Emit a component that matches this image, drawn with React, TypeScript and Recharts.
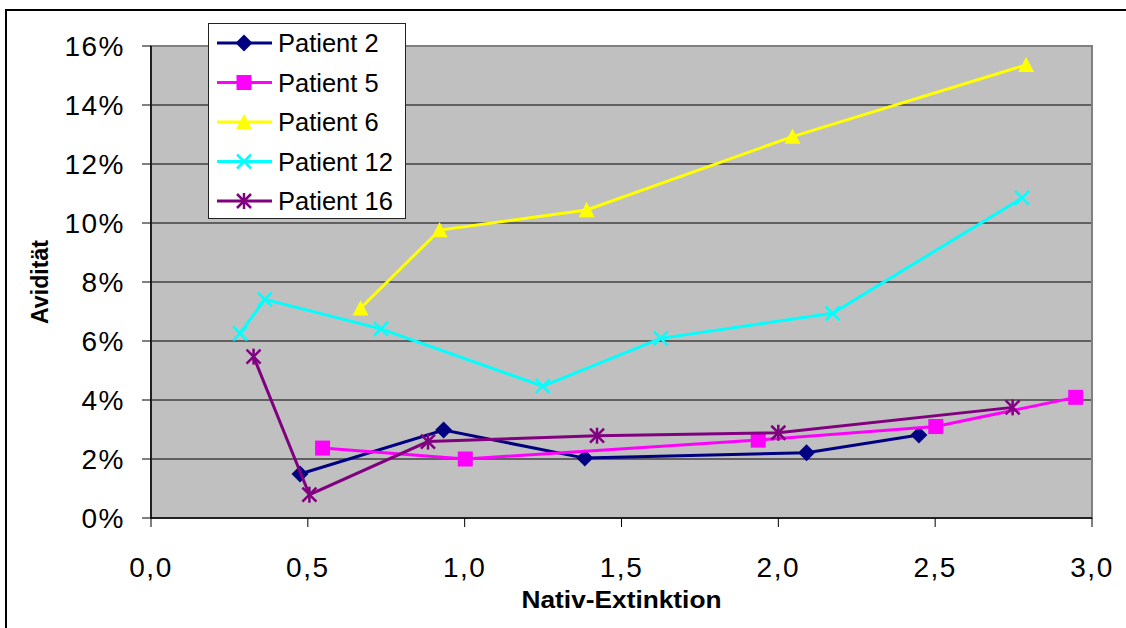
import React from 'react';
import {
  ScatterChart,
  Scatter,
  XAxis,
  YAxis,
  CartesianGrid,
  ReferenceArea,
  Legend,
} from 'recharts';

// Nativ-Extinktion (x) and Avidität (y, as fraction) per patient
const patient2: [number, number][] = [
  [0.475, 0.0149],
  [0.933, 0.0298],
  [1.383, 0.0203],
  [2.09, 0.0221],
  [2.448, 0.0281],
];
const patient5: [number, number][] = [
  [0.547, 0.0237],
  [1.002, 0.02],
  [1.936, 0.0264],
  [2.502, 0.031],
  [2.948, 0.0409],
];
const patient6: [number, number][] = [
  [0.668, 0.0711],
  [0.92, 0.0976],
  [1.389, 0.1044],
  [2.045, 0.1293],
  [2.79, 0.1536],
];
const patient12: [number, number][] = [
  [0.284, 0.0626],
  [0.363, 0.0741],
  [0.733, 0.0641],
  [1.249, 0.0447],
  [1.625, 0.0609],
  [2.173, 0.0694],
  [2.777, 0.1085],
];
const patient16: [number, number][] = [
  [0.327, 0.0547],
  [0.505, 0.0079],
  [0.883, 0.0259],
  [1.422, 0.0279],
  [2.0, 0.0289],
  [2.747, 0.0375],
];

const xTicks = [0, 0.5, 1, 1.5, 2, 2.5, 3];
const yTicks = [0, 0.02, 0.04, 0.06, 0.08, 0.1, 0.12, 0.14, 0.16];

type MarkerKind = 'diamond' | 'square' | 'triangle' | 'cross' | 'star';

const series: { name: string; color: string; marker: MarkerKind; points: [number, number][] }[] = [
  { name: 'Patient 2', color: '#000080', marker: 'diamond', points: patient2 },
  { name: 'Patient 5', color: '#FF00FF', marker: 'square', points: patient5 },
  { name: 'Patient 6', color: '#FFFF00', marker: 'triangle', points: patient6 },
  { name: 'Patient 12', color: '#00FFFF', marker: 'cross', points: patient12 },
  { name: 'Patient 16', color: '#800080', marker: 'star', points: patient16 },
];

const FONT = '"Liberation Sans", Arial, sans-serif';

function Marker({ kind, cx, cy, color }: { kind: MarkerKind; cx: number; cy: number; color: string }) {
  switch (kind) {
    case 'diamond': {
      const r = 8.5;
      return <polygon points={`${cx},${cy - r} ${cx + r},${cy} ${cx},${cy + r} ${cx - r},${cy}`} fill={color} />;
    }
    case 'square': {
      const r = 7.5;
      return <rect x={cx - r} y={cy - r} width={r * 2} height={r * 2} fill={color} />;
    }
    case 'triangle': {
      const r = 8;
      return <polygon points={`${cx},${cy - r} ${cx + r},${cy + r * 0.9} ${cx - r},${cy + r * 0.9}`} fill={color} />;
    }
    case 'cross': {
      const r = 7;
      return (
        <g stroke={color} strokeWidth={2.5}>
          <line x1={cx - r} y1={cy - r} x2={cx + r} y2={cy + r} />
          <line x1={cx - r} y1={cy + r} x2={cx + r} y2={cy - r} />
        </g>
      );
    }
    case 'star': {
      const r = 7;
      return (
        <g stroke={color} strokeWidth={2.5}>
          <line x1={cx - r} y1={cy - r} x2={cx + r} y2={cy + r} />
          <line x1={cx - r} y1={cy + r} x2={cx + r} y2={cy - r} />
          <line x1={cx} y1={cy - r - 1} x2={cx} y2={cy + r + 1} />
        </g>
      );
    }
  }
  return null;
}

function LegendBox() {
  const rowH = 39.5;
  return (
    <svg width={198} height={196} style={{ display: 'block' }}>
      <rect x={0.5} y={0.5} width={197} height={195} fill="#FFFFFF" stroke="#222" strokeWidth={1} />
      {series.map((s, i) => {
        const cy = 20 + i * rowH;
        return (
          <g key={s.name}>
            <line x1={9} y1={cy} x2={64} y2={cy} stroke={s.color} strokeWidth={3} />
            <Marker kind={s.marker} cx={36} cy={cy} color={s.color} />
            <text x={70} y={cy + 9} fontFamily={FONT} fontSize={25.5} fill="#000">
              {s.name}
            </text>
          </g>
        );
      })}
    </svg>
  );
}

const fmtX = (v: number) => v.toFixed(1).replace('.', ',');
const fmtY = (v: number) => `${Math.round(v * 100)}%`;

export default function App() {
  return (
    <div
      style={{
        position: 'absolute',
        left: 0,
        top: 0,
        width: 1126,
        height: 628,
        background: '#FFFFFF',
        overflow: 'hidden',
      }}
    >
      <div
        style={{
          position: 'absolute',
          left: 5,
          top: 9,
          width: 1140,
          height: 640,
          border: '2px solid #000',
          boxSizing: 'border-box',
        }}
      />
      <div style={{ position: 'absolute', left: 0, top: 0 }}>
        <ScatterChart width={1126} height={628} margin={{ top: 46, right: 34, bottom: 0, left: 0 }}>
          <CartesianGrid vertical={false} stroke="#000" strokeWidth={1} fill="#C0C0C0" fillOpacity={1} />
          <ReferenceArea
            x1={0}
            x2={3}
            y1={0}
            y2={0.16}
            fill="none"
            fillOpacity={0}
            stroke="#808080"
            strokeWidth={2}
          />
          <XAxis
            type="number"
            dataKey="x"
            domain={[0, 3]}
            ticks={xTicks}
            tickFormatter={fmtX}
            height={110}
            axisLine={{ stroke: '#000', strokeWidth: 1.5 }}
            tickLine={{ stroke: '#000', strokeWidth: 1 }}
            tickSize={9}
            tickMargin={30}
            tick={{ fill: '#000', fontSize: 28, fontFamily: FONT, letterSpacing: 1.5 }}
            interval={0}
            label={(props: any) => {
              const vb = props.viewBox || {};
              return (
                <text
                  x={vb.x + vb.width / 2}
                  y={vb.y + 90}
                  textAnchor="middle"
                  fontFamily={FONT}
                  fontWeight="bold"
                  fontSize={23}
                  textLength={200}
                  lengthAdjust="spacingAndGlyphs"
                  fill="#000"
                >
                  Nativ-Extinktion
                </text>
              );
            }}
          />
          <YAxis
            type="number"
            dataKey="y"
            domain={[0, 0.16]}
            ticks={yTicks}
            tickFormatter={fmtY}
            width={151}
            axisLine={{ stroke: '#000', strokeWidth: 1.5 }}
            tickLine={{ stroke: '#000', strokeWidth: 1 }}
            tickSize={9}
            tickMargin={17}
            tick={{ fill: '#000', fontSize: 28, fontFamily: FONT, letterSpacing: 1.5 }}
            interval={0}
            label={(props: any) => {
              const vb = props.viewBox || {};
              const cx = 40;
              const cy = vb.y + vb.height / 2;
              return (
                <text
                  x={cx}
                  y={cy}
                  transform={`rotate(-90 ${cx} ${cy})`}
                  textAnchor="middle"
                  dominantBaseline="central"
                  fontFamily={FONT}
                  fontWeight="bold"
                  fontSize={23}
                  textLength={84}
                  lengthAdjust="spacingAndGlyphs"
                  fill="#000"
                >
                  Avidität
                </text>
              );
            }}
          />
          {series.map((s) => (
            <Scatter
              key={s.name}
              name={s.name}
              data={s.points.map(([x, y]) => ({ x, y }))}
              fill={s.color}
              line={{ stroke: s.color, strokeWidth: 3 }}
              lineType="joint"
              isAnimationActive={false}
              shape={(p: any) => <Marker kind={s.marker} cx={p.cx} cy={p.cy} color={s.color} />}
            />
          ))}
          <Legend
            layout="vertical"
            align="center"
            verticalAlign="middle"
            content={() => <LegendBox />}
            wrapperStyle={{ position: 'absolute', left: 208, top: 23, width: 198, height: 196 }}
          />
        </ScatterChart>
      </div>
    </div>
  );
}
